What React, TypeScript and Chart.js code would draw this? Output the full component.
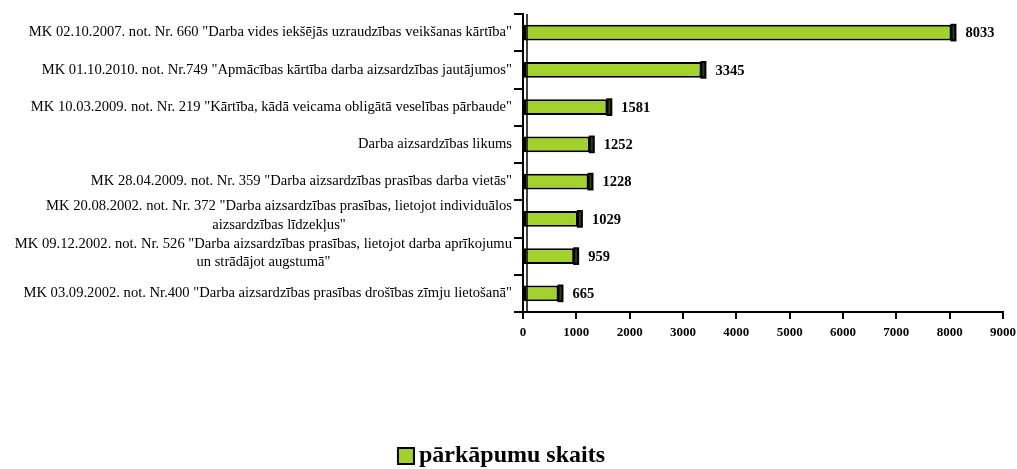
import React, { useEffect, useRef } from "react";
import { Chart, registerables } from "chart.js";

Chart.register(...registerables);

const categories: string[][] = [
  ['MK 02.10.2007. not. Nr. 660 "Darba vides iekšējās uzraudzības veikšanas kārtība"'],
  ['MK 01.10.2010. not. Nr.749 "Apmācības kārtība darba aizsardzības jautājumos"'],
  ['MK 10.03.2009. not. Nr. 219 "Kārtība, kādā veicama obligātā veselības pārbaude"'],
  ["Darba aizsardzības likums"],
  ['MK 28.04.2009. not. Nr. 359 "Darba aizsardzības prasības darba vietās"'],
  ['MK 20.08.2002. not. Nr. 372 "Darba aizsardzības prasības, lietojot individuālos', 'aizsardzības līdzekļus"'],
  ['MK 09.12.2002. not. Nr. 526 "Darba aizsardzības prasības, lietojot darba aprīkojumu', 'un strādājot augstumā"'],
  ['MK 03.09.2002. not. Nr.400 "Darba aizsardzības prasības drošības zīmju lietošanā"'],
];
const values: number[] = [8033, 3345, 1581, 1252, 1228, 1029, 959, 665];
const seriesName = "pārkāpumu skaits";
const xTicksMax = 9000;
const xTickStep = 1000;

const GREEN = "#a3d12c";
const DARK = "#2f3d0c";
const SERIF = "'Liberation Serif', 'Times New Roman', serif";

const decorPlugin = {
  id: "decor",
  afterDatasetsDraw(chart: any) {
    const ctx = chart.ctx;
    const meta = chart.getDatasetMeta(0);
    const area = chart.chartArea;
    ctx.save();
    // 3D side faces + value labels
    meta.data.forEach((bar: any, i: number) => {
      const top = bar.y - bar.height / 2;
      ctx.fillStyle = DARK;
      ctx.fillRect(bar.x, top, 4, bar.height);
      ctx.strokeStyle = "#000";
      ctx.lineWidth = 2;
      ctx.strokeRect(bar.x, top, 4, bar.height);
      ctx.fillStyle = "#000";
      ctx.font = `bold 14.5px ${SERIF}`;
      ctx.textAlign = "left";
      ctx.textBaseline = "middle";
      ctx.fillText(String(values[i]), bar.x + 14, bar.y + 1);
    });
    // wall inner line
    ctx.strokeStyle = "#000";
    ctx.lineWidth = 1.5;
    ctx.beginPath();
    ctx.moveTo(area.left + 4, area.top);
    ctx.lineTo(area.left + 4, area.bottom);
    ctx.stroke();
    // category labels
    const yScale = chart.scales.y;
    ctx.font = `14.6px ${SERIF}`;
    ctx.fillStyle = "#000";
    ctx.textBaseline = "middle";
    const rightX = area.left - 11;
    categories.forEach((lines, i) => {
      const cy = yScale.getPixelForValue(i);
      const lh = 18.5;
      const widths = lines.map((l) => ctx.measureText(l).width);
      const maxW = Math.max(...widths);
      const startY = cy - ((lines.length - 1) * lh) / 2 - (lines.length > 1 ? 3 : 0);
      lines.forEach((l, j) => {
        ctx.textAlign = "center";
        ctx.fillText(l, rightX - maxW / 2, startY + j * lh);
      });
    });
    // legend
    ctx.font = `bold 24px ${SERIF}`;
    const tw = ctx.measureText(seriesName).width;
    const boxW = 16;
    const gap = 5;
    const total = boxW + gap + tw;
    const lx = chart.width / 2 - total / 2 - 7;
    const ly = 456;
    ctx.fillStyle = GREEN;
    ctx.fillRect(lx, ly - 8, boxW, boxW);
    ctx.strokeStyle = "#000";
    ctx.lineWidth = 2;
    ctx.strokeRect(lx, ly - 8, boxW, boxW);
    ctx.fillStyle = "#000";
    ctx.textAlign = "left";
    ctx.textBaseline = "middle";
    ctx.fillText(seriesName, lx + boxW + gap, ly);
    ctx.restore();
  },
};

export default function App() {
  const ref = useRef<HTMLCanvasElement>(null);
  useEffect(() => {
    document.body.style.margin = "0";
    const chart = new Chart(ref.current!, {
      type: "bar",
      data: {
        labels: categories.map((c) => c.join(" ")),
        datasets: [
          {
            label: seriesName,
            data: values,
            backgroundColor: GREEN,
            borderColor: "#000",
            borderWidth: 2,
            borderSkipped: false,
            barPercentage: 0.42,
            categoryPercentage: 1,
          },
        ],
      },
      options: {
        indexAxis: "y",
        animation: false,
        responsive: false,
        layout: { padding: { top: 14, right: 14, left: 0, bottom: 0 } },
        plugins: {
          tooltip: { enabled: false },
          legend: { display: false },
        },
        scales: {
          x: {
            min: 0,
            max: xTicksMax,
            ticks: {
              stepSize: xTickStep,
              color: "#000",
              font: { family: SERIF, size: 13, weight: "bold" },
              padding: 6,
              maxRotation: 0,
              callback: (v: any) => String(v),
            },
            grid: {
              drawOnChartArea: false,
              color: "#000",
              lineWidth: 2,
              tickLength: 7,
            },
            border: { color: "#000", width: 2 },
            afterFit(scale: any) {
              scale.height = 157;
              scale.paddingRight = 0;
              scale.paddingLeft = 0;
            },
          },
          y: {
            offset: true,
            ticks: { display: false },
            grid: {
              offset: true,
              drawOnChartArea: false,
              color: "#000",
              lineWidth: 2,
              tickLength: 9,
            },
            border: { color: "#000", width: 2 },
            afterFit(scale: any) {
              scale.width = 523;
              scale.paddingTop = 0;
              scale.paddingBottom = 0;
            },
          },
        },
      },
      plugins: [decorPlugin],
    } as any);
    return () => chart.destroy();
  }, []);
  return (
    <div style={{ width: 1017, height: 469 }}>
      <canvas ref={ref} width={1017} height={469} style={{ display: "block" }} />
    </div>
  );
}
